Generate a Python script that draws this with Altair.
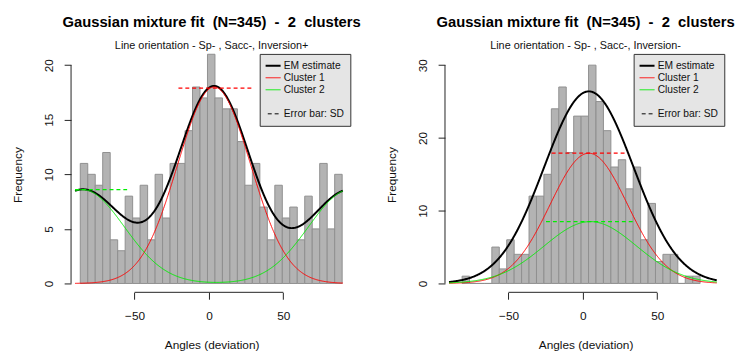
import altair as alt
import pandas as pd
import numpy as np

FONT = "Liberation Sans"

# ---------------- data ----------------
# Panel A: Line orientation - Sp- , Sacc-, Inversion+
a_counts = [11, 10, 9, 12, 4, 3, 8, 6, 9, 4, 10, 6, 11, 11, 14, 18, 17, 21,
            17, 16, 16, 13, 9, 11, 7, 4, 9, 6, 7, 4, 8, 5, 11, 5, 10]
a_bin_start = -86.5
a_bin_width = 5.03
# Panel B: Line orientation - Sp- , Sacc-, Inversion-
b_counts = [1, 0, 0, 0, 5, 2, 6, 4, 4, 12, 12, 15, 24, 27, 18, 23, 23, 30,
            25, 21, 16, 17, 13, 16, 6, 11, 3, 4, 4, 0, 1, 1]
b_bin_start = -81.2
b_bin_width = 5.0

# fitted gaussian components: (mean, sd, peak height in counts)
a_cluster1 = (3.5, 24.5, 18.0)
a_cluster2 = (-85.0, 28.0, 8.6)      # axial data: wraps every 180 deg
b_cluster1 = (4.0, 26.0, 17.9)
b_cluster2 = (5.0, 31.0, 8.5)
b_em = (4.0, 30.0, 26.4)

# SD error bars: (y, low, high)
a_err1 = (17.9, -20.5, 28.5)
a_err2 = (8.6, -90.0, -55.0)
b_err1 = (17.9, -21.0, 28.2)
b_err2 = (8.5, -24.8, 34.8)

main_title = "Gaussian mixture fit\u00a0 (N=345)\u00a0 -\u00a0 2\u00a0 clusters"
a_subtitle = "Line orientation - Sp- , Sacc-, Inversion+"
b_subtitle = "Line orientation - Sp- , Sacc-, Inversion-"
x_ticks = [-50, 0, 50]
a_y_ticks = [0, 5, 10, 15, 20]
b_y_ticks = [0, 5, 10, 15, 20, 25, 30]

RED = "#FF0000"
GREEN = "#00EE00"
legend_entries = ["EM estimate", "Cluster 1", "Cluster 2", " ", "Error bar: SD"]
legend_colors = ["#000000", RED, GREEN, "transparent", "#000000"]
legend_dashes = [[1, 0], [1, 0], [1, 0], [1, 0], [4, 3]]

X_DOMAIN = [-92.7, 96.3]
PW, PH = 285.4, 239


def gauss(x, m, s, h, wrap=False):
    g = h * np.exp(-(x - m) ** 2 / (2 * s ** 2))
    if wrap:
        g = g + h * np.exp(-(x - m - 180) ** 2 / (2 * s ** 2))
        g = g + h * np.exp(-(x - m + 180) ** 2 / (2 * s ** 2))
    return g


def panel(counts, start, width, c1, c2, em, wrap2, err1, err2, yticks, ydom, subtitle):
    lo = start + width * np.arange(len(counts))
    bars = pd.DataFrame({"lo": lo, "hi": lo + width, "n": counts, "base": 0})
    xs = np.arange(-90, 90.01, 0.5)
    y1 = gauss(xs, *c1)
    y2 = gauss(xs, *c2, wrap=wrap2)
    yem = y1 + y2 if em is None else gauss(xs, *em)
    curves = pd.concat([
        pd.DataFrame({"x": xs, "y": yem, "entry": "EM estimate", "o": 0}),
        pd.DataFrame({"x": xs, "y": y1, "entry": "Cluster 1", "o": 1}),
        pd.DataFrame({"x": xs, "y": y2, "entry": "Cluster 2", "o": 2}),
    ])
    errs = pd.DataFrame({
        "y": [err1[0], err2[0]], "lo": [err1[1], err2[1]], "hi": [err1[2], err2[2]],
        "col": [RED, GREEN],
    })
    axes = pd.DataFrame({"xlo": [x_ticks[0]], "xhi": [x_ticks[-1]],
                         "ylo": [yticks[0]], "yhi": [yticks[-1]]})

    xs_ = alt.Scale(domain=X_DOMAIN, nice=False, zero=False)
    ys_ = alt.Scale(domain=ydom, nice=False, zero=False)
    xaxis = alt.Axis(values=x_ticks, title="Angles (deviation)", domain=False, grid=False,
                     tickSize=7, tickColor="#222", tickWidth=1, labelFontSize=12,
                     labelPadding=12, labelFont=FONT, labelColor="#111",
                     titleFont=FONT, titleFontSize=12, titleFontWeight="normal",
                     titleColor="#111", titlePadding=18)
    yaxis = alt.Axis(values=yticks, title="Frequency", domain=False, grid=False,
                     tickSize=7, tickColor="#222", tickWidth=1, labelFontSize=12,
                     labelAngle=270, labelAlign="center", labelBaseline="bottom",
                     labelPadding=9, labelFont=FONT, labelColor="#111",
                     titleFont=FONT, titleFontSize=12, titleFontWeight="normal",
                     titleColor="#111", titlePadding=18)

    bar_layer = alt.Chart(bars).mark_rect(fill="#B3B3B3", stroke="#8F8F8F", strokeWidth=1).encode(
        x=alt.X("lo:Q", scale=xs_, axis=xaxis),
        x2="hi:Q",
        y=alt.Y("base:Q", scale=ys_, axis=yaxis),
        y2="n:Q",
    )
    xline = alt.Chart(axes).mark_rule(color="#222", strokeWidth=1).encode(
        x=alt.X("xlo:Q", scale=xs_), x2="xhi:Q", y=alt.value(PH))
    yline = alt.Chart(axes).mark_rule(color="#222", strokeWidth=1).encode(
        x=alt.value(0), y=alt.Y("ylo:Q", scale=ys_), y2="yhi:Q")

    leg = alt.Legend(title=None, orient="none", legendX=191.5, legendY=-3, symbolType="stroke",
                     symbolSize=400, clipHeight=12, rowPadding=0.2, padding=6,
                     fillColor="#E5E5E5", strokeColor="#333", labelFontSize=10.4,
                     labelFont=FONT, labelColor="#111", labelOffset=8,
                     symbolStrokeWidth=alt.ExprRef("datum.value == 'EM estimate' ? 2 : 1"))
    curve_layer = alt.Chart(curves).mark_line(interpolate="linear").encode(
        x=alt.X("x:Q", scale=xs_),
        y=alt.Y("y:Q", scale=ys_),
        color=alt.Color("entry:N", scale=alt.Scale(domain=legend_entries, range=legend_colors), legend=leg),
        strokeDash=alt.StrokeDash("entry:N", scale=alt.Scale(domain=legend_entries, range=legend_dashes), legend=leg),
        strokeWidth=alt.condition("datum.entry == 'EM estimate'", alt.value(2), alt.value(1)),
        order="o:Q",
    )
    err_layer = alt.Chart(errs).mark_rule(strokeDash=[4, 3], strokeWidth=1.2).encode(
        x=alt.X("lo:Q", scale=xs_), x2="hi:Q",
        y=alt.Y("y:Q", scale=ys_),
        stroke=alt.Stroke("col:N", scale=None),
    )
    return alt.layer(bar_layer, xline, yline, curve_layer, err_layer).properties(
        width=PW, height=PH,
        title=alt.TitleParams(text=main_title, subtitle=subtitle, anchor="middle",
                              font=FONT, fontSize=15, fontWeight="bold", color="#000",
                              subtitleFont=FONT, subtitleFontSize=11, subtitleColor="#111",
                              subtitlePadding=10, offset=3, frame="group"),
    )


left = panel(a_counts, a_bin_start, a_bin_width, a_cluster1, a_cluster2, None, True,
             a_err1, a_err2, a_y_ticks, [-0.81, 20.76], a_subtitle)
right = panel(b_counts, b_bin_start, b_bin_width, b_cluster1, b_cluster2, b_em, False,
              b_err1, b_err2, b_y_ticks, [-1.22, 31.14], b_subtitle)

chart = alt.hconcat(left, right, spacing=93.6, bounds="flush").resolve_scale(
    color="independent", strokeDash="independent", x="independent", y="independent"
).properties(
    padding={"left": 3, "top": 4, "right": 0, "bottom": 0},
    background="white",
).configure_view(stroke="transparent")

chart.save("out.html", embed_options={"renderer": "svg", "actions": False})
